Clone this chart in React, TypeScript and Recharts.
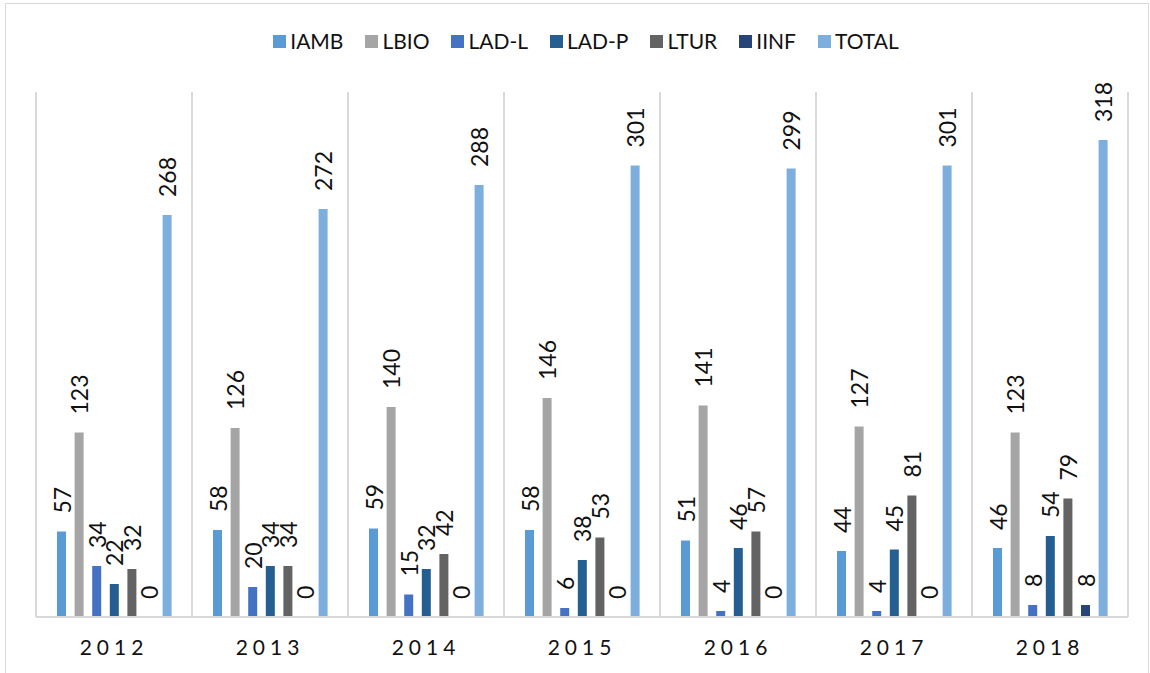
import { BarChart, Bar, XAxis, YAxis, CartesianGrid, LabelList } from "recharts";

const years = ["2012", "2013", "2014", "2015", "2016", "2017", "2018"];
const iamb = [57, 58, 59, 58, 51, 44, 46];
const lbio = [123, 126, 140, 146, 141, 127, 123];
const ladL = [34, 20, 15, 6, 4, 4, 8];
const ladP = [22, 34, 32, 38, 46, 45, 54];
const ltur = [32, 34, 42, 53, 57, 81, 79];
const iinf = [0, 0, 0, 0, 0, 0, 8];
const total = [268, 272, 288, 301, 299, 301, 318];

const series = [
  { key: "IAMB", values: iamb, cor: "#5B9BD5" },
  { key: "LBIO", values: lbio, cor: "#A5A5A5" },
  { key: "LAD-L", values: ladL, cor: "#4472C4" },
  { key: "LAD-P", values: ladP, cor: "#255E91" },
  { key: "LTUR", values: ltur, cor: "#636363" },
  { key: "IINF", values: iinf, cor: "#264478" },
  { key: "TOTAL", values: total, cor: "#7CAFDD" },
];

const dados = years.map((ano, i) => {
  const row: Record<string, string | number> = { ano };
  series.forEach((s) => (row[s.key] = s.values[i]));
  return row;
});

const FONT = "Lato, 'Open Sans', sans-serif";

function RotLabel(props: any) {
  const { x, y, width, height, value } = props;
  const cx = x + width / 2;
  // bar top (height can be 0 for zero values)
  const top = height < 0 ? y + height : y;
  const ty = top - 18;
  return (
    <text
      x={cx}
      y={ty}
      transform={`rotate(-90, ${cx}, ${ty})`}
      textAnchor="start"
      dominantBaseline="central"
      fontFamily={FONT}
      fontSize={23}
      fill="#111"
    >
      {String(value)}
    </text>
  );
}

function YearTick(props: any) {
  const { x, y, payload } = props;
  return (
    <text x={x} y={y + 30} textAnchor="middle" fontFamily={FONT} fontSize={21} letterSpacing={5} fill="#111">
      {payload.value}
    </text>
  );
}

function Legenda() {
  return (
    <div
      style={{
        position: "absolute",
        top: 28,
        left: 0,
        width: 1150,
        display: "flex",
        justifyContent: "center",
        gap: 22,
        paddingLeft: 22,
        boxSizing: "border-box",
        fontFamily: FONT,
        fontSize: 21,
        lineHeight: "26px",
        color: "#111",
      }}
    >
      {series.map((s) => (
        <div key={s.key} style={{ display: "flex", alignItems: "center", gap: 4 }}>
          <span style={{ width: 13, height: 13, background: s.cor, display: "inline-block" }} />
          <span>{s.key}</span>
        </div>
      ))}
    </div>
  );
}

export default function App() {
  return (
    <div style={{ position: "absolute", left: 0, top: 0, width: 1150, height: 673, background: "#fff", overflow: "hidden" }}>
      <div style={{ position: "absolute", left: 5, top: 3, width: 1142, height: 700, border: "1px solid #D9D9D9" }} />
      <Legenda />
      <BarChart
        width={1150}
        height={673}
        data={dados}
        margin={{ top: 92, right: 22, left: 36, bottom: 26 }}
        barSize={9}
        barGap={8.6}
      >
        <CartesianGrid
          horizontal={false}
          stroke="#D9D9D9"
          strokeWidth={2}
          verticalCoordinatesGenerator={({ offset }: any) =>
            Array.from({ length: years.length + 1 }, (_, i) => offset.left + (i * offset.width) / years.length)
          }
        />
        <XAxis
          dataKey="ano"
          height={30}
          tickLine={false}
          axisLine={{ stroke: "#D9D9D9", strokeWidth: 2 }}
          tick={<YearTick />}
          interval={0}
        />
        <YAxis hide domain={[0, 350]} />
        {series.map((s) => (
          <Bar key={s.key} dataKey={s.key} fill={s.cor} minPointSize={0.01} isAnimationActive={false}>
            <LabelList dataKey={s.key} content={<RotLabel />} />
          </Bar>
        ))}
      </BarChart>
    </div>
  );
}
